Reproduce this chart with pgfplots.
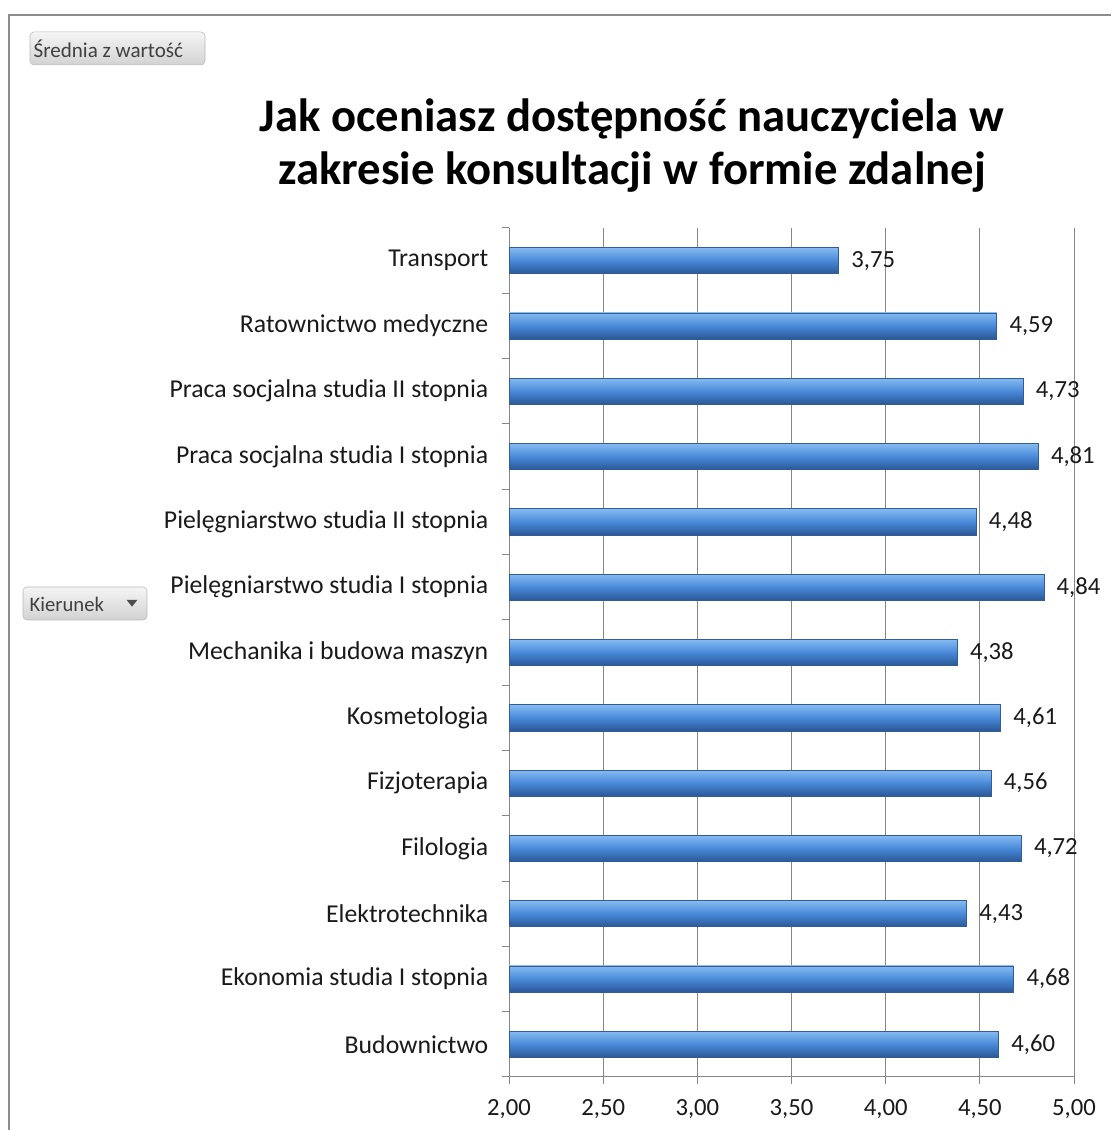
\documentclass[border=0pt]{standalone}
\usepackage{fontspec}
\setmainfont{Carlito}
\usepackage{pgfplots}
\pgfplotsset{compat=1.18}
\definecolor{barTop}{HTML}{86BBF2}
\definecolor{barMid}{HTML}{4889D8}
\definecolor{barBot}{HTML}{2A5796}
\definecolor{barEdge}{HTML}{325C96}
\definecolor{gridGray}{HTML}{868686}
\definecolor{frameGray}{HTML}{8C8C8C}
\definecolor{txt}{HTML}{1A1A1A}

\begin{document}
\begin{tikzpicture}
% page size 1111x1130 px at 0.75pt per px
\useasboundingbox (0,0) rectangle (833.25pt,847.5pt);
\fill[white] (0,0) rectangle (833.25pt,847.5pt);
\draw[frameGray, line width=1.5pt] (6.4pt,0) -- (6.4pt,836pt) -- (833.25pt,836pt);

% pivot field buttons
\shade[top color=gray!8, bottom color=gray!35, draw=gray!55, rounded corners=3pt]
  (22.5pt,798.75pt) rectangle (153.75pt,823.5pt);
\node[anchor=west, text=black!75, font=\fontsize{15.8}{18}\selectfont, inner sep=0pt]
  at (25pt,811pt) {Średnia z wartość};
\shade[top color=gray!8, bottom color=gray!35, draw=gray!55, rounded corners=3pt]
  (17.25pt,382.5pt) rectangle (110.25pt,407.25pt);
\node[anchor=west, text=black!75, font=\fontsize{15.5}{18}\selectfont, inner sep=0pt]
  at (22pt,394.5pt) {Kierunek};
\fill[black!70] (95pt,397.5pt) -- (103pt,397.5pt) -- (99pt,392.5pt) -- cycle;

% title
\node[align=center, text=black, font=\fontsize{35}{40}\selectfont\bfseries]
  at (474pt,738.5pt) {Jak oceniasz dostępność nauczyciela w\\zakresie konsultacji w formie zdalnej};

\begin{axis}[
    at={(381.75pt,39.75pt)}, anchor=south west,
    scale only axis, width=423.75pt, height=636.75pt,
    xbar=0pt, bar width=0.4, bar shift=0pt,
    xmin=2, xmax=5, ymin=-0.5, ymax=12.5,
    axis lines=left,
    axis line style={-, draw=gridGray, line width=0.75pt},
    xtick={2,2.5,...,5},
    xmajorgrids,
    grid style={draw=gridGray, line width=0.75pt},
    tick align=outside, major tick length=5pt,
    tick style={draw=gridGray, line width=0.75pt},
    ytick={-0.5,0.5,...,12.5},
    yticklabels={},
    extra y ticks={0,1,...,12},
    extra y tick style={major tick length=0pt},
    extra y tick labels={Budownictwo, Ekonomia studia I stopnia, Elektrotechnika,
      Filologia, Fizjoterapia, Kosmetologia, Mechanika i budowa maszyn,
      Pielęgniarstwo studia I stopnia, Pielęgniarstwo studia II stopnia,
      Praca socjalna studia I stopnia, Praca socjalna studia II stopnia,
      Ratownictwo medyczne, Transport},
    yticklabel style={font=\fontsize{19.3}{22}\selectfont, text=txt, xshift=-12pt},
    xticklabel style={font=\fontsize{18.5}{22}\selectfont, text=txt, yshift=-8pt,
      /pgf/number format/.cd, fixed, fixed zerofill, precision=2, use comma, assume math mode=true},
    nodes near coords={\pgfmathprintnumber[fixed,fixed zerofill,precision=2,use comma,assume math mode=true]{\pgfplotspointmeta}},
    nodes near coords align=horizontal,
    every node near coord/.append style={font=\fontsize{18.5}{22}\selectfont, text=txt, xshift=6pt},
    bar3d/.style={draw=barEdge, line width=0.5pt, top color=barTop, bottom color=barBot, middle color=barMid},
]
% one plot per bar so that each bar gets its own shading
\addplot[bar3d] coordinates {(4.60,0)};
\addplot[bar3d] coordinates {(4.68,1)};
\addplot[bar3d] coordinates {(4.43,2)};
\addplot[bar3d] coordinates {(4.72,3)};
\addplot[bar3d] coordinates {(4.56,4)};
\addplot[bar3d] coordinates {(4.61,5)};
\addplot[bar3d] coordinates {(4.38,6)};
\addplot[bar3d] coordinates {(4.84,7)};
\addplot[bar3d] coordinates {(4.48,8)};
\addplot[bar3d] coordinates {(4.81,9)};
\addplot[bar3d] coordinates {(4.73,10)};
\addplot[bar3d] coordinates {(4.59,11)};
\addplot[bar3d] coordinates {(3.75,12)};
\end{axis}
\end{tikzpicture}
\end{document}
